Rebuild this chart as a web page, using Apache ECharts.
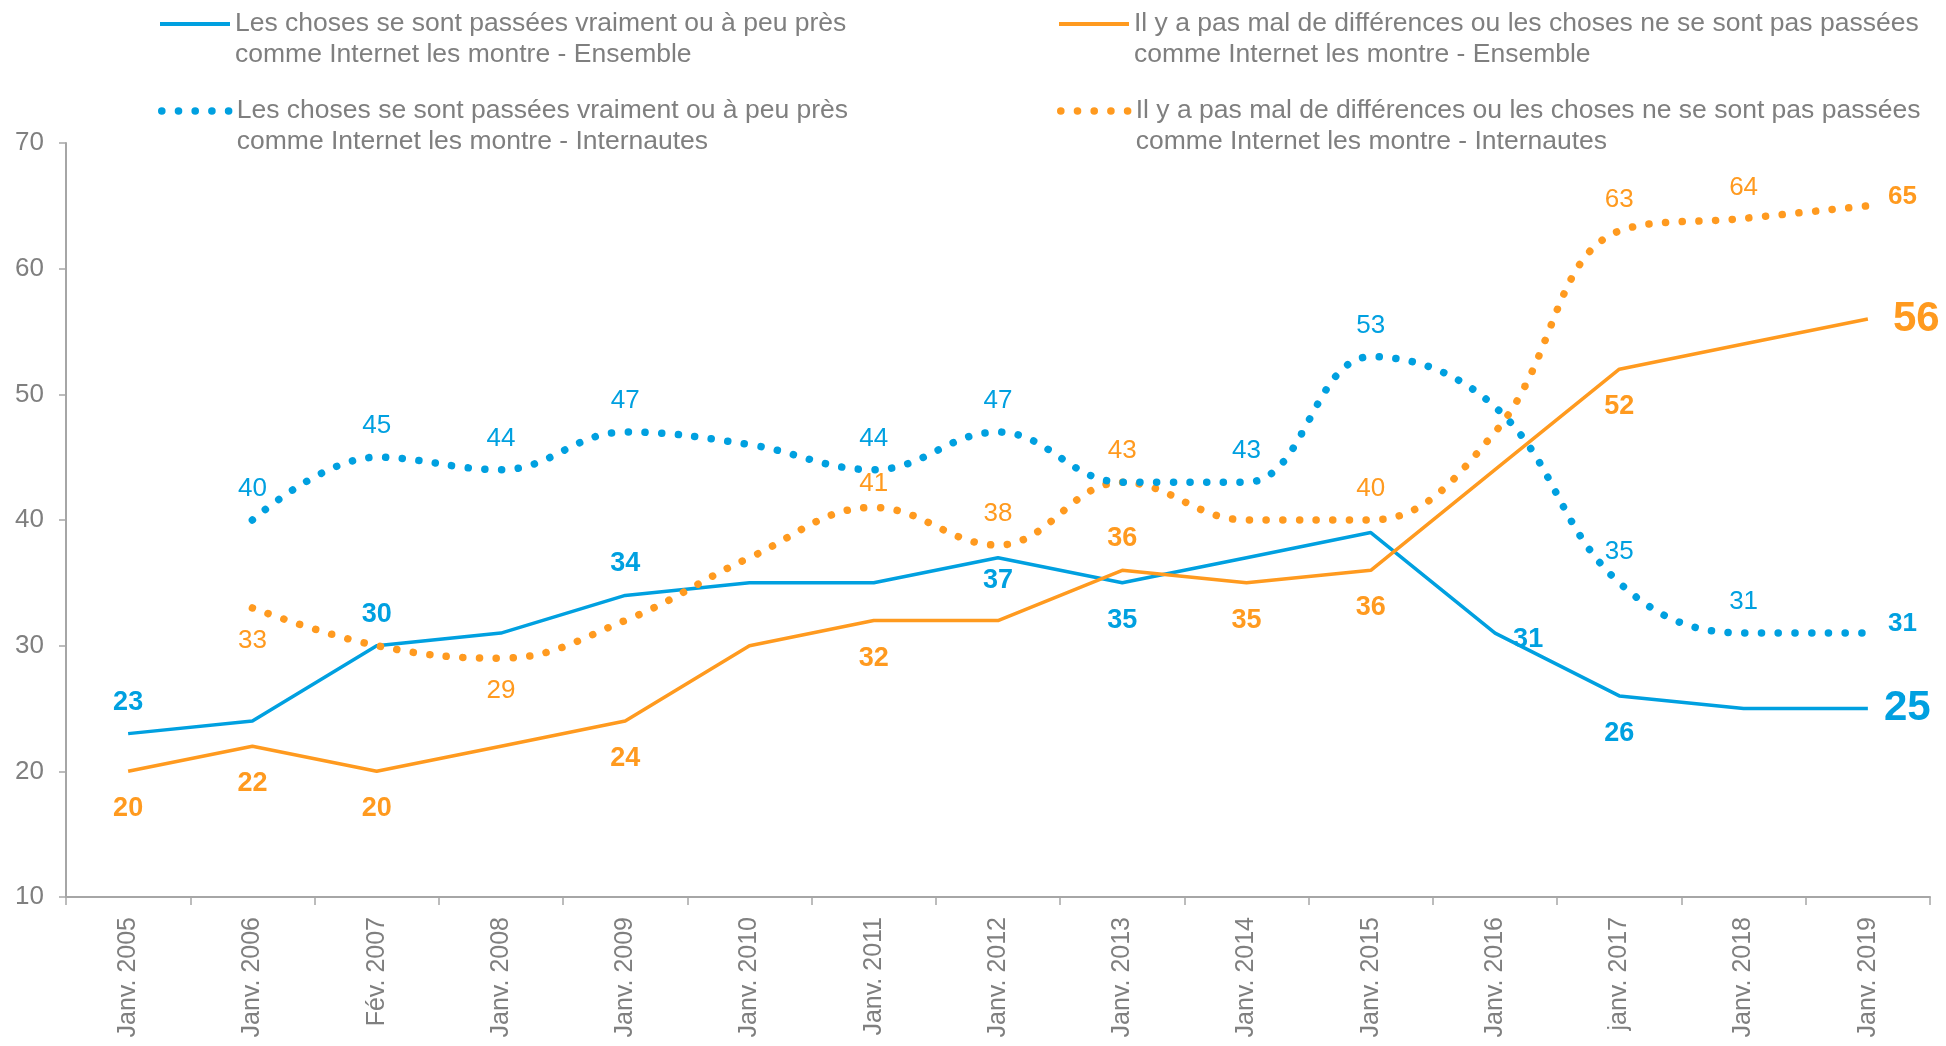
<!DOCTYPE html>
<html>
<head>
<meta charset="utf-8">
<script src="https://cdn.jsdelivr.net/npm/echarts@6/dist/echarts.min.js"></script>
<style>
  html, body { margin: 0; padding: 0; background: #fff; }
  #chart { width: 1946px; height: 1046px; }
</style>
</head>
<body>
<div id="chart"></div>
<script>
// categories (x axis)
const categories = ['Janv. 2005', 'Janv. 2006', 'Fév. 2007', 'Janv. 2008', 'Janv. 2009', 'Janv. 2010',
    'Janv. 2011', 'Janv. 2012', 'Janv. 2013', 'Janv. 2014', 'Janv. 2015', 'Janv. 2016',
    'janv. 2017', 'Janv. 2018', 'Janv. 2019'];

// series names
const nameBlueSolid = 'Les choses se sont passées vraiment ou à peu près\ncomme Internet les montre - Ensemble';
const nameOrangeSolid = 'Il y a pas mal de différences ou les choses ne se sont pas passées\ncomme Internet les montre - Ensemble';
const nameBlueDotted = 'Les choses se sont passées vraiment ou à peu près\ncomme Internet les montre - Internautes';
const nameOrangeDotted = 'Il y a pas mal de différences ou les choses ne se sont pas passées\ncomme Internet les montre - Internautes';

// values
const blueSolid = [23, 24, 30, 31, 34, 35, 35, 37, 35, 37, 39, 31, 26, 25, 25];
const orangeSolid = [20, 22, 20, 22, 24, 30, 32, 32, 36, 35, 36, 44, 52, 54, 56];
const blueDotted = [null, 40, 45, 44, 47, 46, 44, 47, 43, 43, 53, 49, 35, 31, 31];
const orangeDotted = [null, 33, 30, 29, 32, 37, 41, 38, 43, 40, 40, 47, 63, 64, 65];

// which points carry a value label, and where
const blueSolidLab = ['top', null, 'top', null, 'top', null, null, 'bottomNear', 'bottom', null, null, 'rightLow', 'bottom', null, 'big'];
const orangeSolidLab = ['bottom', 'bottom', 'bottom', null, 'bottom', null, 'bottom', null, 'top', 'bottom', 'bottom', null, 'bottom', null, 'bigFar'];
const blueDottedLab = [null, 'top', 'top', 'top', 'top', null, 'top', 'top', null, 'top', 'top', null, 'top', 'top', 'end'];
const orangeDottedLab = [null, 'bottomDot', null, 'bottomDot', null, null, 'topNear', 'top', 'top', null, 'top', null, 'top', 'top', 'end'];

const BLUE = '#00A0E0';
const ORANGE = '#FF9A1F';
const GREY = '#7F7F7F';
const AXIS = '#A6A6A6';
const FONT = '"Liberation Sans", Arial, sans-serif';
const DOTS = [0.1, 16.6];

function labelFor(kind, bold) {
    const base = { show: true, fontFamily: FONT, fontSize: bold ? 27 : 26, fontWeight: bold ? 'bold' : 'normal' };
    switch (kind) {
        case 'top': return Object.assign(base, { position: 'top', distance: 18 });
        case 'topNear': return Object.assign(base, { position: 'top', distance: 11 });
        case 'bottom': return Object.assign(base, { position: 'bottom', distance: 24 });
        case 'bottomNear': return Object.assign(base, { position: 'bottom', distance: 9 });
        case 'bottomDot': return Object.assign(base, { position: 'bottom', distance: 20 });
        case 'rightLow': return Object.assign(base, { position: 'right', distance: 18, offset: [0, 6] });
        case 'big': return Object.assign(base, { position: 'right', distance: 16, fontSize: 42, fontWeight: 'bold' });
        case 'bigFar': return Object.assign(base, { position: 'right', distance: 25, fontSize: 42, fontWeight: 'bold' });
        case 'end': return Object.assign(base, { position: 'right', distance: 20, fontSize: 26, fontWeight: 'bold', offset: [0, -9] });
    }
    return { show: false };
}

function makeData(values, labs, bold) {
    return values.map(function (v, i) {
        return { value: v, label: labelFor(labs[i], bold) };
    });
}

const chart = echarts.init(document.getElementById('chart'));

// a leading empty line puts the icon level with the first text line
function legendAt(name, left, centerY, dotted) {
    return {
        data: [name],
        left: left,
        top: centerY - 46.5,
        padding: 0,
        itemWidth: 70,
        itemHeight: 8,
        itemGap: 0,
        itemStyle: { opacity: 0 },
        lineStyle: dotted ? { width: 7.5, type: DOTS, cap: 'round' } : { width: 4, type: 'solid' },
        selectedMode: false,
        formatter: function (n) { return '\n' + n; },
        textStyle: { color: GREY, fontFamily: FONT, fontSize: 26.5, lineHeight: 31 }
    };
}

const option = {
    backgroundColor: '#fff',
    animation: false,
    legend: [
        legendAt(nameBlueSolid, 158, 24, false),
        legendAt(nameOrangeSolid, 1057, 24, false),
        legendAt(nameBlueDotted, 158, 111, true),
        legendAt(nameOrangeDotted, 1057, 111, true)
    ],
    grid: { left: 66, right: 16, top: 143, bottom: 149 },
    xAxis: {
        type: 'category',
        data: categories,
        boundaryGap: true,
        axisLine: { lineStyle: { color: AXIS, width: 2 } },
        axisTick: { show: true, length: 8, interval: 0, lineStyle: { color: AXIS, width: 1.5 } },
        axisLabel: { interval: 0, rotate: 90, margin: 20, color: GREY, fontFamily: FONT, fontSize: 25 },
        splitLine: { show: false }
    },
    yAxis: {
        type: 'value',
        min: 10,
        max: 70,
        interval: 10,
        axisLine: { show: true, lineStyle: { color: AXIS, width: 2 } },
        axisTick: { show: true, length: 7, lineStyle: { color: AXIS, width: 1.5 } },
        axisLabel: { margin: 22, color: GREY, fontFamily: FONT, fontSize: 26 },
        splitLine: { show: false }
    },
    series: [
        {
            name: nameBlueSolid, type: 'line', color: BLUE,
            symbol: 'circle', symbolSize: 0.1, showSymbol: true,
            lineStyle: { width: 3.5, color: BLUE },
            label: { color: BLUE },
            data: makeData(blueSolid, blueSolidLab, true),
            z: 2
        },
        {
            name: nameOrangeSolid, type: 'line', color: ORANGE,
            symbol: 'circle', symbolSize: 0.1, showSymbol: true,
            lineStyle: { width: 3.5, color: ORANGE },
            label: { color: ORANGE },
            data: makeData(orangeSolid, orangeSolidLab, true),
            z: 2
        },
        {
            name: nameBlueDotted, type: 'line', color: BLUE, smooth: 0.4,
            symbol: 'circle', symbolSize: 0.1, showSymbol: true,
            lineStyle: { width: 7.5, color: BLUE, type: DOTS, cap: 'round' },
            label: { color: BLUE },
            data: makeData(blueDotted, blueDottedLab, false),
            z: 4
        },
        {
            name: nameOrangeDotted, type: 'line', color: ORANGE, smooth: 0.4,
            symbol: 'circle', symbolSize: 0.1, showSymbol: true,
            lineStyle: { width: 7.5, color: ORANGE, type: DOTS, cap: 'round' },
            label: { color: ORANGE },
            data: makeData(orangeDotted, orangeDottedLab, false),
            z: 3
        }
    ]
};

chart.setOption(option);
</script>
</body>
</html>
